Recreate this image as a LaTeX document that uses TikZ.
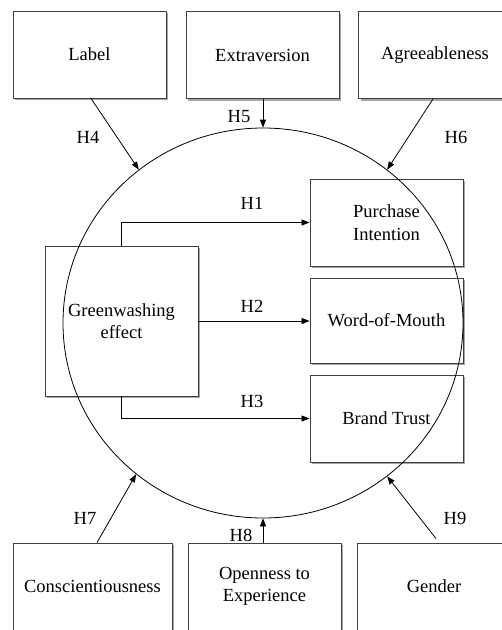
\documentclass[tikz,border=0pt]{standalone}
\usepackage{fontspec}
\setmainfont{Liberation Serif}
\usetikzlibrary{arrows.meta,shapes.geometric,shadows}
\begin{document}
\begin{tikzpicture}[x=1pt,y=-1pt,
  every node/.style={font=\fontsize{18.5}{22.5}\selectfont},
  box/.style={draw=black!75,line width=0.9pt,fill=white,rectangle,inner sep=0pt,align=center,
    drop shadow={shadow xshift=2pt,shadow yshift=-2pt,opacity=0.35,fill=black}},
  arr/.style={draw=black,line width=0.8pt,-{Triangle[length=8pt,width=6pt]}},
  hlab/.style={inner sep=0pt}]
\useasboundingbox (0,0) rectangle (502,630);
\clip (0,0) rectangle (502,630);
% top boxes
\node[box,minimum width=153,minimum height=87] (lab) at (89.5,54.5) {Label};
\node[box,minimum width=153,minimum height=87] (ext) at (262.5,55) {Extraversion};
\node[box,minimum width=153,minimum height=87] (agr) at (435,55) {Agreeableness};
% middle
\node[box,minimum width=153,minimum height=150] (ge) at (121.5,321) {Greenwashing\\effect};
\node[box,minimum width=153,minimum height=87] (pi) at (386.5,222.5) {Purchase\\Intention};
\node[box,minimum width=153,minimum height=85] (wom) at (386.5,320.5) {Word-of-Mouth};
\node[box,minimum width=153,minimum height=87] (bt) at (386.5,418.5) {Brand Trust};
% bottom
\node[box,minimum width=159,minimum height=87] (con) at (92.5,586.5) {Conscientiousness};
\node[box,minimum width=153,minimum height=87] (ope) at (264.5,586.5) {Openness to\\Experience};
\node[box,minimum width=153,minimum height=87] (gen) at (434,586.5) {Gender};
% circle
\node[draw=black,line width=0.8pt,ellipse,minimum width=400,minimum height=390,inner sep=0pt] (circ) at (263,323) {};
% inner arrows
\draw[arr] (ge.north) |- (pi.west);
\draw[arr] (ge.east) -- (ge.east -| wom.west);
\draw[arr] (ge.south) |- (bt.west);
\node[hlab] (h1) at (252,203) {H1};
\node[hlab] (h2) at (252,306) {H2};
\node[hlab] (h3) at (252,401) {H3};
% moderators
\draw[arr] ([xshift=1.5pt]lab.south) -- (circ.129.5);
\draw[arr] ([xshift=0.5pt]ext.south) -- (circ.90);
\draw[arr] ([xshift=-2pt]agr.south) -- (circ.51);
\draw[arr] ([xshift=4.5pt]con.north) -- (circ.230);
\draw[arr] ([xshift=-1.5pt]ope.north) -- (circ.270);
\draw[arr] ([xshift=2pt,yshift=4pt]gen.north) -- (circ.309.7);
\node[hlab] (h4) at (88,137) {H4};
\node[hlab] (h5) at (239,117) {H5};
\node[hlab] (h6) at (456,137) {H6};
\node[hlab] (h7) at (85,518) {H7};
\node[hlab] (h8) at (241,535) {H8};
\node[hlab] (h9) at (455,518) {H9};
\end{tikzpicture}
\end{document}
